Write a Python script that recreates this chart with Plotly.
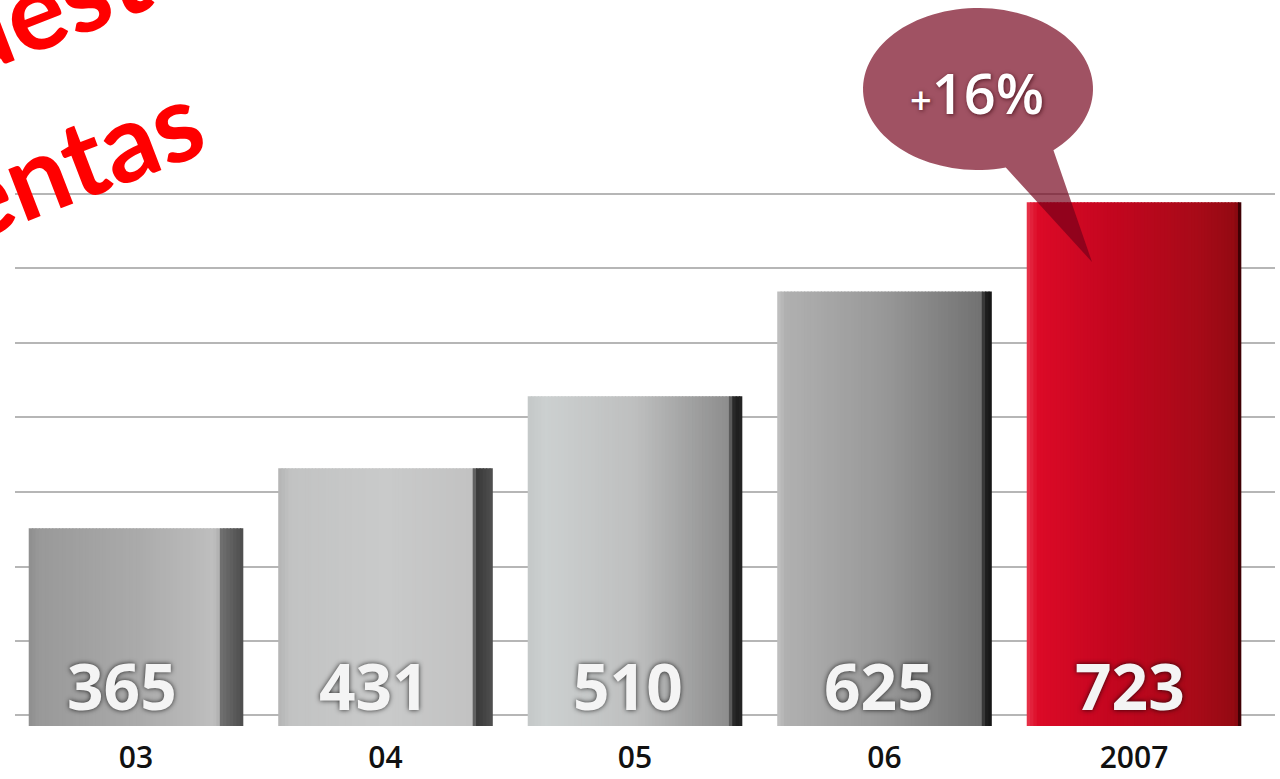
import math
import plotly.graph_objects as go

# ---- data -----------------------------------------------------------------
years = ["03", "04", "05", "06", "2007"]
sales = [365, 431, 510, 625, 723]
growth_text = "16%"
title_top = "Presupuesto"
title_bottom = "ventas"

# ---- styling ----------------------------------------------------------------
BAR_W = 0.86          # bar width in category units
SLICES = 64           # vertical strips used to shade each bar

# colour stops across each bar (0 = left edge, 1 = right edge incl. side face)
shading = [
    [(0.0, "#8e8e8e"), (0.05, "#999999"), (0.5, "#aaaaaa"), (0.86, "#bebebe"),
     (0.885, "#b2b2b2"), (0.89, "#727272"), (1.0, "#4c4c4c")],
    [(0.0, "#b4b4b4"), (0.06, "#c2c3c3"), (0.5, "#c9caca"), (0.9, "#c2c2c2"),
     (0.915, "#5a5a5a"), (0.93, "#3a3a3a"), (1.0, "#505050")],
    [(0.0, "#c4c8c8"), (0.08, "#ccd0d0"), (0.5, "#bebfbf"), (0.93, "#8e8e8e"),
     (0.955, "#3a3a3a"), (0.965, "#1e1e1e"), (1.0, "#252525")],
    [(0.0, "#c2c2c2"), (0.04, "#b0b0b0"), (0.5, "#989898"), (0.95, "#727272"),
     (0.965, "#222222"), (1.0, "#141414")],
    [(0.0, "#e8364c"), (0.05, "#dc0a27"), (0.4, "#c3061f"), (0.8, "#a70a18"),
     (0.975, "#930a12"), (0.988, "#4a0006"), (1.0, "#2a0000")],
]
side_start = [0.89, 0.915, 0.955, 0.965, 0.985]


def hex_rgb(h):
    h = h.lstrip("#")
    return tuple(int(h[i:i + 2], 16) for i in (0, 2, 4))


def colour_at(stops, t):
    if t <= stops[0][0]:
        return stops[0][1]
    for (t0, c0), (t1, c1) in zip(stops, stops[1:]):
        if t0 <= t <= t1:
            f = 0 if t1 == t0 else (t - t0) / (t1 - t0)
            a, b = hex_rgb(c0), hex_rgb(c1)
            r = [round(a[k] + (b[k] - a[k]) * f) for k in range(3)]
            return "rgb({},{},{})".format(*r)
    return stops[-1][1]


# plot-area geometry in pixels, used to place the call-out and heading
FIG_W, FIG_H = 1280, 779
PL, PR, PT, PB = 15, 1275, 0, 726
X_RANGE = [-0.485, 4.565]
PX_PER_CAT = (PR - PL) / (X_RANGE[1] - X_RANGE[0])


def pxx(x):
    return (x - PL) / (PR - PL)


def pxy(y):
    return (PB - y) / (PB - PT)


fig = go.Figure()

# shaded bars built from narrow overlaid strips
step = BAR_W / SLICES
for i in range(SLICES):
    t = (i + 0.5) / SLICES
    last = i == SLICES - 1
    fig.add_trace(go.Bar(
        x=years, y=sales,
        width=step if last else step * 1.35,
        offset=-BAR_W / 2 + i * step,
        marker=dict(color=[colour_at(s, t) for s in shading], line=dict(width=0)),
        hoverinfo="skip", showlegend=False,
    ))

# value labels near the foot of each bar, centred on its front face
label_font = dict(family="Open Sans", size=64, color="#f4f4f4", weight=700,
                  shadow="0px 0px 5px rgba(0,0,0,0.8)")
for idx, (val, side) in enumerate(zip(sales, side_start)):
    fig.add_annotation(
        x=idx, xref="x", y=pxy(685), yref="paper",
        xshift=-(BAR_W / 2) * (1 - side) * PX_PER_CAT - 2,
        text=str(val), showarrow=False, xanchor="center", yanchor="middle",
        font=label_font,
    )

# speech-bubble call-out (ellipse with a tail pointing into the last bar)
cx, cy, rx, ry = 978, 89, 115, 81
tip = (1092, 262)
pts = []
for k in range(0, 336, 3):
    a = math.radians(76 + k)
    pts.append((cx + rx * math.cos(a), cy + ry * math.sin(a)))
pts.append(tip)
path = "M " + " L ".join(f"{pxx(x):.5f},{pxy(y):.5f}" for x, y in pts) + " Z"
fig.add_shape(type="path", path=path, xref="paper", yref="paper",
              fillcolor="rgba(115,0,25,0.68)", line=dict(width=0), layer="above")

fig.add_annotation(
    x=pxx(977), y=pxy(92), xref="paper", yref="paper", showarrow=False,
    xanchor="center", yanchor="middle",
    text='<span style="font-size:38px">+</span>' + growth_text,
    font=dict(family="Open Sans", size=56, color="white", weight=600,
              shadow="1px 1px 4px rgba(50,0,10,0.7)"),
)

# rotated heading
head_font = dict(family="Lato", size=108, color="#ff0000", weight=700)
fig.add_annotation(x=pxx(-81), y=pxy(52), xref="paper", yref="paper",
                   showarrow=False, xanchor="center", yanchor="middle",
                   textangle=-21, text=title_top, font=head_font)
fig.add_annotation(x=pxx(49), y=pxy(168), xref="paper", yref="paper",
                   showarrow=False, xanchor="center", yanchor="middle",
                   textangle=-21, text=title_bottom, font=head_font)

# horizontal guide lines
grid_vals = [160, 241, 323, 405, 487, 569, 651, 732]

fig.update_layout(
    width=FIG_W, height=FIG_H,
    margin=dict(l=PL, r=FIG_W - PR, t=PT, b=FIG_H - PB),
    barmode="overlay",
    plot_bgcolor="white", paper_bgcolor="white",
    xaxis=dict(
        type="category", range=X_RANGE, automargin=False,
        showgrid=False, zeroline=False, showline=False,
        ticks="outside", ticklen=5, tickcolor="rgba(0,0,0,0)",
        tickfont=dict(family="Open Sans", size=30, color="#111111", weight=600),
    ),
    yaxis=dict(
        range=[148, 945], tickvals=grid_vals, showticklabels=False,
        automargin=False,
        showgrid=True, gridcolor="#b6b6b6", gridwidth=2,
        zeroline=False, showline=False, ticks="",
    ),
)

fig.write_html("out.html")
